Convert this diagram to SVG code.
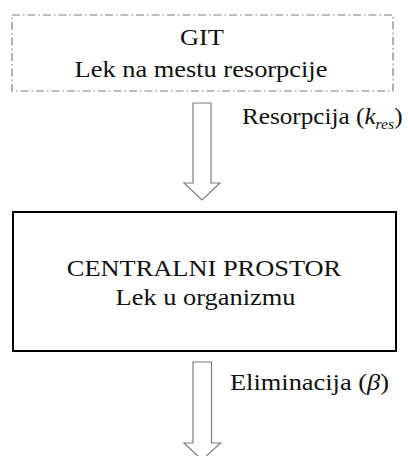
<svg xmlns="http://www.w3.org/2000/svg" width="408" height="456" viewBox="0 0 408 456">
<style>
text{font-family:"Liberation Serif","Times New Roman",serif;font-size:24px;fill:#111;}
.c{text-anchor:middle;}
.arrow{fill:#fff;stroke:#7f7f7f;stroke-width:1.2;}
</style>
<rect width="408" height="456" fill="#fff"/>
<g id="git">
<rect x="12" y="15" width="381" height="76" fill="#fff" stroke="#7f7f7f" stroke-width="1.2" stroke-dasharray="8,3,1.5,3"/>
<text class="c" transform="translate(202,45) scale(1.1,1)">GIT</text>
<text class="c" transform="translate(201,77) scale(1.1,1)">Lek na mestu resorpcije</text>
</g>
<g id="central">
<rect x="13" y="212" width="383" height="139" fill="#fff" stroke="#000" stroke-width="2"/>
<text class="c" transform="translate(204,276) scale(1.1,1)">CENTRALNI PROSTOR</text>
<text class="c" transform="translate(205.5,305) scale(1.1,1)">Lek u organizmu</text>
</g>
<g id="connectors">
<path class="arrow" d="M193,103 H211 V183 H220 L202,200 L184,183 H193 Z"/>
<text transform="translate(242,124) scale(1.05,1)">Resorpcija (<tspan font-style="italic">k</tspan><tspan font-style="italic" font-size="15" dy="5">res</tspan><tspan dy="-5">)</tspan></text>
<path class="arrow" d="M193,362 H211.5 V443 H220.5 L202,460 L184,443 H193 Z"/>
<text transform="translate(230,390) scale(1.1,1)">Eliminacija (<tspan font-style="italic">β</tspan>)</text>
</g>
</svg>
